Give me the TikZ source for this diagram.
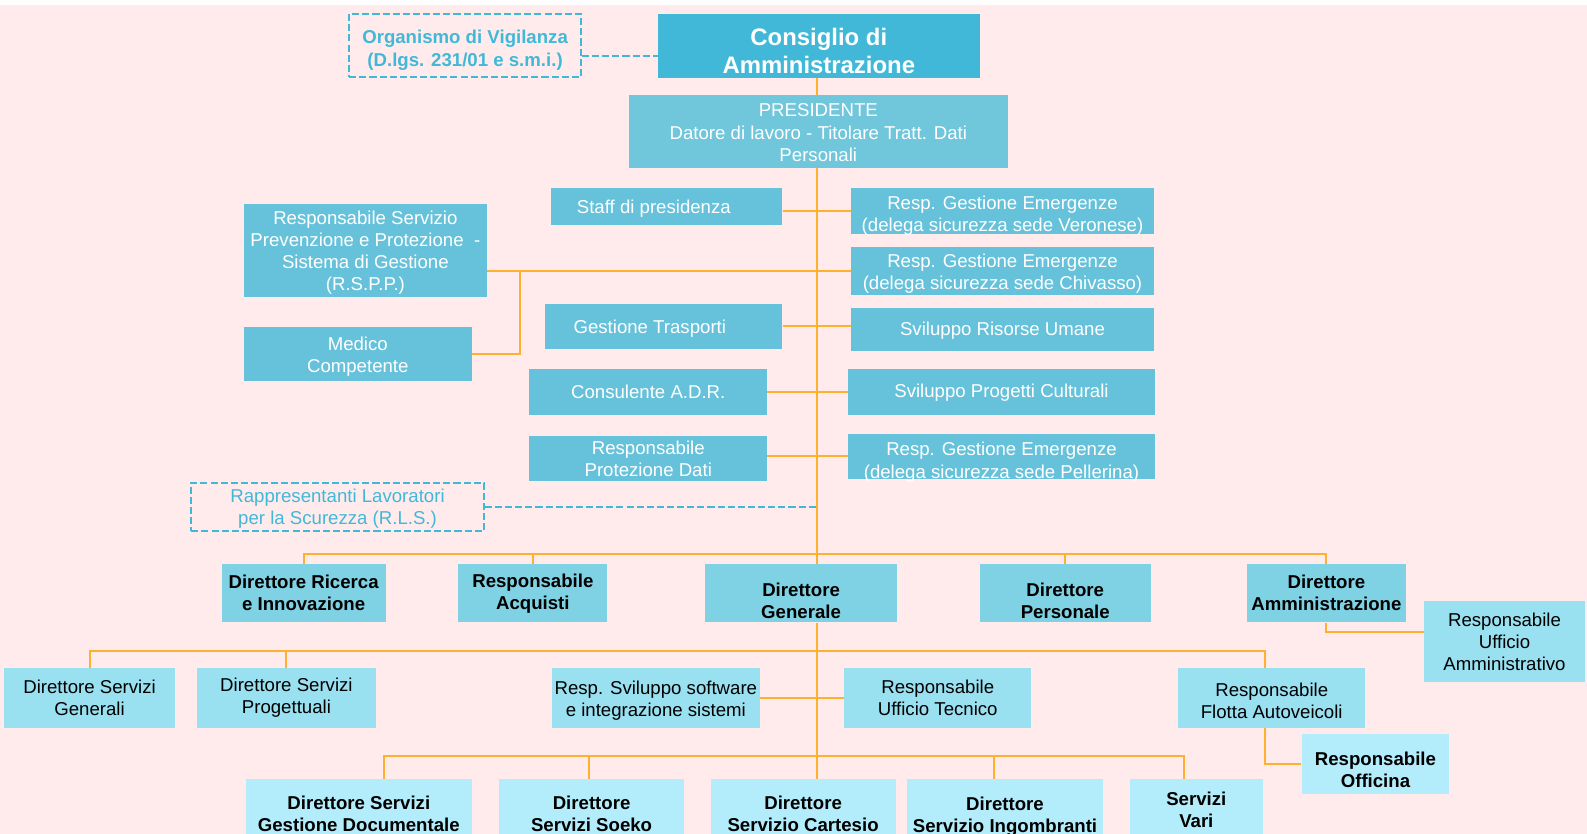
\documentclass[tikz,border=0pt]{standalone}
\usepackage{fontspec}
\setmainfont{Liberation Sans}
\usepackage{xcolor}
\usetikzlibrary{calc}

\definecolor{rosa}{HTML}{FFEBEB}
\definecolor{ciano}{HTML}{41B8D8}
\definecolor{presid}{HTML}{70C6DA}
\definecolor{staffc}{HTML}{66C2DA}
\definecolor{dirc}{HTML}{7FD2E4}
\definecolor{livtre}{HTML}{99E0F0}
\definecolor{livqua}{HTML}{B3ECFA}
\definecolor{arancio}{HTML}{FDB12F}

% testo abbassato dentro il riquadro
\newcommand{\giu}[2]{\raisebox{-#1}[\height][\depth]{\begin{tabular}{@{}c@{}}#2\end{tabular}}}

\begin{document}
\begin{tikzpicture}[x=1pt,y=-1pt]

\tikzset{
    box/.style = {
    inner sep=0pt,
    align=center,
    font=\fontsize{18.4}{22}\selectfont
    }
}

\tikzstyle{consiglio}=[box, fill=ciano, text=white, font=\fontsize{23.6}{28}\selectfont\bfseries]
\tikzstyle{vigilanza}=[box, draw=ciano, line width=2pt, dash pattern=on 7pt off 3pt, text=ciano]
\tikzstyle{presidente}=[box, fill=presid, text=white]
\tikzstyle{staff}=[box, fill=staffc, text=white]
\tikzstyle{direttore}=[box, fill=dirc, font=\fontsize{18.4}{22}\selectfont\bfseries]
\tikzstyle{servizio}=[box, fill=livtre]
\tikzstyle{reparto}=[box, fill=livqua, font=\fontsize{18.4}{22}\selectfont\bfseries]
\tikzstyle{link}=[draw=arancio, line width=2pt]
\tikzstyle{dashlink}=[draw=ciano, line width=2pt, dash pattern=on 7pt off 3pt]

\fill[white] (0,0) rectangle (1568,824);
\fill[rosa] (0,5) rectangle (1568,824);
\useasboundingbox (0,0) rectangle (1568,824);

% vertice
\node (cda) [consiglio, minimum width=318, minimum height=63] at (809,45.5) {\giu{8pt}{Consiglio di\\Amministrazione}};
\node (odv) [vigilanza, minimum width=229, minimum height=62, font=\fontsize{18.4}{22}\selectfont\bfseries] at (459.5,45) {\giu{5pt}{Organismo di Vigilanza\\(D.lgs. 231/01 e s.m.i.)}};
\node (pres) [presidente, minimum width=375, minimum height=72] at (808.5,130) {\giu{3pt}{PRESIDENTE\\Datore di lavoro - Titolare Tratt. Dati\\Personali}};

% staff
\node (staff) [staff, minimum width=229, minimum height=36] at (658.5,204) {\giu{3pt}{Staff di presidenza\hspace*{25pt}}};
\node (vero) [staff, minimum width=299, minimum height=45] at (990.5,208.5) {\giu{5pt}{Resp. Gestione Emergenze\\(delega sicurezza sede Veronese)}};
\node (chiv) [staff, minimum width=299, minimum height=47] at (990.5,267.5) {\giu{3.5pt}{Resp. Gestione Emergenze\\(delega sicurezza sede Chivasso)}};
\node (rspp) [staff, minimum width=240, minimum height=91] at (361,247.5) {\giu{2.5pt}{Responsabile Servizio\\Prevenzione e Protezione~~-\\Sistema di Gestione\\(R.S.P.P.)}};
\node (medico) [staff, minimum width=225, minimum height=53] at (353.5,349.5) {\giu{3pt}{Medico\\Competente}};
\node (trasp) [staff, minimum width=235, minimum height=45] at (655.5,322.5) {\giu{3pt}{Gestione Trasporti\hspace*{27pt}}};
\node (risorse) [staff, minimum width=299, minimum height=43] at (990.5,325.5) {\giu{2pt}{Sviluppo Risorse Umane}};
\node (adr) [staff, minimum width=235, minimum height=45] at (640.5,387.5) {Consulente A.D.R.};
\node (cult) [staff, minimum width=303, minimum height=45] at (989.5,387.5) {Sviluppo Progetti Culturali};
\node (privacy) [staff, minimum width=235, minimum height=44] at (640.5,453) {Responsabile\\Protezione Dati};
\node (pell) [staff, minimum width=303, minimum height=44] at (989.5,451) {\giu{6pt}{Resp. Gestione Emergenze\\(delega sicurezza sede Pellerina)}};
\node (rls) [vigilanza, minimum width=289, minimum height=48] at (333.5,501) {\giu{2pt}{Rappresentanti Lavoratori\\per la Scurezza (R.L.S.)}};

% direttori
\node (ric) [direttore, minimum width=162, minimum height=58] at (300,586) {\giu{2pt}{Direttore Ricerca\\e Innovazione}};
\node (acq) [direttore, minimum width=147, minimum height=58] at (526.5,586) {\giu{1pt}{Responsabile\\Acquisti}};
\node (dg) [direttore, minimum width=189, minimum height=58] at (791.5,586) {\giu{10pt}{Direttore\\Generale}};
\node (pers) [direttore, minimum width=169, minimum height=58] at (1052.5,586) {\giu{10pt}{Direttore\\Personale}};
\node (amm) [direttore, minimum width=157, minimum height=58] at (1310.5,586) {Direttore\\Amministrazione};
\node (uffamm) [servizio, minimum width=159, minimum height=80] at (1486.5,634) {Responsabile\\Ufficio\\Amministrativo};

% servizi
\node (sgen) [servizio, minimum width=169, minimum height=59] at (88.5,689.5) {Direttore Servizi\\Generali};
\node (sprog) [servizio, minimum width=176, minimum height=59] at (283,689.5) {Direttore Servizi\\Progettuali};
\node (soft) [servizio, minimum width=206, minimum height=59] at (648,689.5) {\giu{3pt}{Resp. Sviluppo software\\e integrazione sistemi}};
\node (tecn) [servizio, minimum width=185, minimum height=59] at (926.5,689.5) {\giu{2.5pt}{Responsabile\\Ufficio Tecnico}};
\node (flotta) [servizio, minimum width=185, minimum height=59] at (1256.5,689.5) {\giu{5pt}{Responsabile\\Flotta Autoveicoli}};
\node (officina) [reparto, minimum width=146, minimum height=59] at (1359,754.5) {\giu{8pt}{Responsabile\\Officina}};

\node (docum) [reparto, minimum width=223, minimum height=68] at (354.5,804) {\giu{2pt}{Direttore Servizi\\Gestione Documentale}};
\node (soeko) [reparto, minimum width=183, minimum height=68] at (584.5,804) {Direttore\\Servizi Soeko};
\node (cart) [reparto, minimum width=183, minimum height=68] at (793.5,804) {\giu{2pt}{Direttore\\Servizio Cartesio}};
\node (ingom) [reparto, minimum width=194, minimum height=68] at (993,804) {\giu{3pt}{Direttore\\Servizio Ingombranti}};
\node (vari) [reparto, minimum width=132, minimum height=68] at (1182,804) {\giu{-2pt}{Servizi\\Vari}};

\coordinate (t-1) at (807,547);
\coordinate (t-2) at (807,643);
\coordinate (t-3) at (807,747);
\coordinate (r-1) at (514,267.5);
\coordinate (f-1) at ([xshift=-7]flotta.north);
\coordinate (f-2) at ([xshift=-7]flotta.south);
\coordinate (d-1) at ([xshift=25]docum.north);
\coordinate (d-2) at ([xshift=-3]soeko.north);
\coordinate (d-3) at ([xshift=-11]ingom.north);
\coordinate (d-4) at ([xshift=-12]vari.north);

% tronco
\draw[link] (cda.south -| t-1) -- (pres.north -| t-1);
\draw[link] (pres.south -| t-1) -- (dg.north -| t-1);
\draw[link] (dg.south -| t-1) -- (cart.north -| t-1);

% staff
\draw[dashlink] ([yshift=-10]odv.east) -- ([yshift=-10]odv.east -| cda.west);
\draw[link] (staff.east |- vero.west) -- (vero.west);
\draw[link] (rspp.east |- chiv.west) -- (chiv.west);
\draw[link] (medico.east) -| (r-1);
\draw[link] (trasp.east) -- (trasp.east -| risorse.west);
\draw[link] (adr) -- (cult);
\draw[link] (privacy.east |- pell.west) -- (pell.west);
\draw[dashlink] (rls.east) -- (rls.east -| t-1);

% direttori
\draw[link] (ric.north) -- (ric.north |- t-1) -- (amm.north |- t-1) -- (amm.north);
\foreach \n in {acq,pers}
    \draw[link] (\n.north) -- (\n.north |- t-1);
\draw[link] (amm.south) |- ([yshift=10]uffamm.west);

% servizi
\draw[link] (sgen.north) -- (sgen.north |- t-2) -- (f-1 |- t-2) -- (f-1);
\draw[link] (sprog.north) -- (sprog.north |- t-2);
\draw[link] (soft) -- (tecn);
\draw[link] (f-2) |- (officina.west);

\draw[link] (d-1) -- (d-1 |- t-3) -- (d-4 |- t-3) -- (d-4);
\foreach \n in {d-2,d-3}
    \draw[link] (\n) -- (\n |- t-3);

\end{tikzpicture}
\end{document}
